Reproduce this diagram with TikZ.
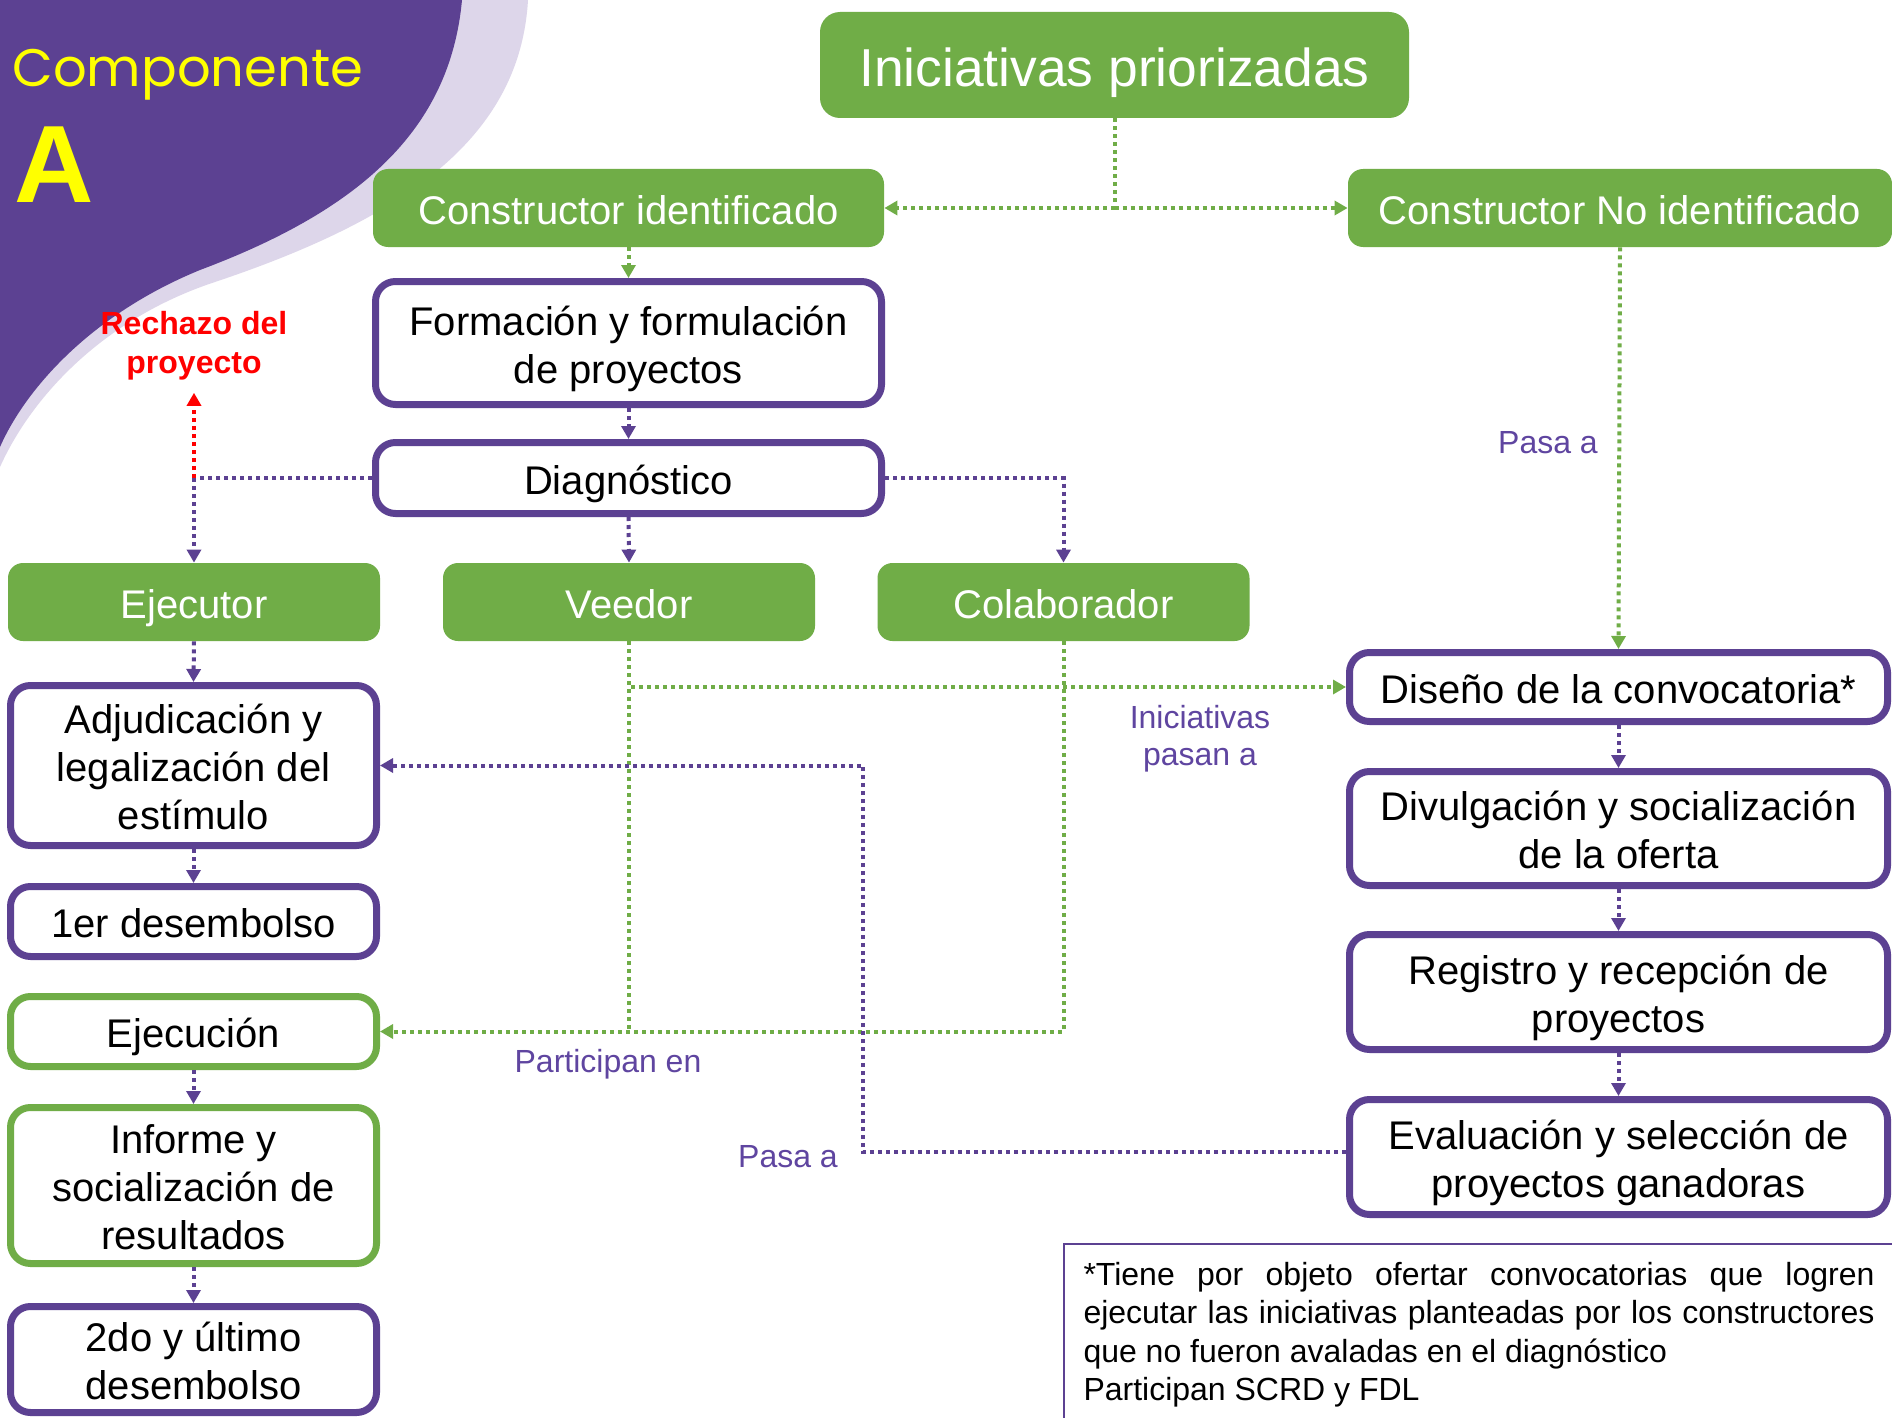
\documentclass[tikz,border=0pt]{standalone}
\usepackage{fontspec}
\setmainfont{Liberation Sans}
\newfontfamily\gothic{Poppins}
\usetikzlibrary{arrows.meta}
\definecolor{pur}{HTML}{5C4192}
\definecolor{lav}{HTML}{DDD6EA}
\definecolor{grn}{HTML}{70AD47}
\definecolor{ylw}{HTML}{FFFF00}
\definecolor{lblp}{HTML}{5F45A0}
\newcommand\sst{\rule[-0.2em]{0pt}{1.22em}}
\newcommand\est{\rule[-0.2em]{0pt}{0.5em}}
\begin{document}
\begin{tikzpicture}[x=0.5pt,y=-0.5pt,
  boxfont/.style={font=\fontsize{20}{24}\selectfont},
  gbox/.style={fill=grn, draw=none, rounded corners=7.5pt, text=white, boxfont, align=center, inner sep=0pt},
  pbox/.style={draw=pur, line width=3.5pt, fill=white, rounded corners=10pt, boxfont, align=center, inner sep=0pt},
  gobox/.style={pbox, draw=grn},
  arr/.style={-{Triangle[length=6.5pt,width=7pt]}},
  pline/.style={draw=pur, line width=2pt, dash pattern=on 2pt off 2pt},
  gline/.style={draw=grn, line width=2pt, dash pattern=on 2pt off 2pt},
  rline/.style={draw=red, line width=2pt, dash pattern=on 2pt off 2pt},
  lbl/.style={text=lblp, font=\fontsize{16}{18.5}\selectfont, align=center, inner sep=0pt}
]
\path[use as bounding box] (0,0) rectangle (1892,1418);
\clip (0,0) rectangle (1892,1418);
\fill[white] (0,0) rectangle (1892,1418);
% background waves
\fill[lav] (0,0) -- (528,0) .. controls (520,140) and (400,220) .. (215,282) .. controls (100,320) and (30,400) .. (0,467) -- cycle;
\fill[pur] (0,0) -- (462,0) .. controls (450,130) and (360,210) .. (200,270) .. controls (90,315) and (25,390) .. (0,447) -- cycle;
\node[anchor=base west, inner sep=0pt, text=ylw, font=\gothic\fontsize{26.4}{30}\selectfont] (comp) at (12,87) {Componente};
\node[anchor=base west, inner sep=0pt, text=ylw, font=\bfseries\fontsize{55}{60}\selectfont] (lettera) at (14,203) {A};

% nodes
\node[gbox, minimum width=294.5pt, minimum height=53pt, rounded corners=10pt, font=\fontsize{26.7}{32}\selectfont] (ini) at (1114.5,65) {\sst Iniciativas priorizadas\est};
\node[gbox, minimum width=255.5pt, minimum height=39pt] (ci) at (628.5,208) {\sst Constructor identificado\est};
\node[gbox, minimum width=272pt, minimum height=39pt] (cni) at (1620,208) {\sst Constructor No identificado\est};
\node[pbox, minimum width=253pt, minimum height=61.5pt] (form) at (628.5,343) {\sst Formación y formulación\\de proyectos\est};
\node[pbox, minimum width=253pt, minimum height=35.5pt] (diag) at (628.5,478) {\sst Diagnóstico\est};
\node[gbox, minimum width=186pt, minimum height=39pt] (ejr) at (194,602) {\sst Ejecutor\est};
\node[gbox, minimum width=186pt, minimum height=39pt] (vee) at (629,602) {\sst Veedor\est};
\node[gbox, minimum width=186pt, minimum height=39pt] (col) at (1063.5,602) {\sst Colaborador\est};
\node[pbox, minimum width=183pt, minimum height=80pt] (adj) at (193.5,765.5) {\sst Adjudicación y\\legalización del\\estímulo\est};
\node[pbox, minimum width=183pt, minimum height=35pt] (d1) at (193.5,921.5) {\sst 1er desembolso\est};
\node[gobox, minimum width=183pt, minimum height=35pt] (eje) at (193.5,1031.5) {\sst Ejecución\est};
\node[gobox, minimum width=183pt, minimum height=78pt] (inf) at (193.5,1185.5) {\sst Informe y\\socialización de\\resultados\est};
\node[pbox, minimum width=183pt, minimum height=53pt] (d2) at (193.5,1359.5) {\sst 2do y último\\desembolso\est};
\node[pbox, minimum width=269pt, minimum height=34.5pt] (dis) at (1618.5,687) {\sst Diseño de la convocatoria*\est};
\node[pbox, minimum width=269pt, minimum height=57pt] (div) at (1618.5,828.5) {\sst Divulgación y socialización\\de la oferta\est};
\node[pbox, minimum width=269pt, minimum height=57.5pt] (reg) at (1618.5,992) {\sst Registro y recepción de\\proyectos\est};
\node[pbox, minimum width=269pt, minimum height=57.5pt] (eva) at (1618.5,1157) {\sst Evaluación y selección de\\proyectos ganadoras\est};

\node[text=red, font=\bfseries\fontsize{16}{19.5}\selectfont, align=center, inner sep=0pt] (rech) at (194,346) {Rechazo del\\proyecto};
\node[lbl] (l1) at (1548,443) {Pasa a};
\node[lbl] (l2) at (1200,739) {Iniciativas\\pasan a};
\node[lbl] (l3) at (608,1064) {Participan en};
\node[lbl] (l4) at (788,1157) {Pasa a};

\node[draw=pur, line width=1pt, fill=white, minimum width=415.5pt, minimum height=88.5pt, text width=395.5pt, align=justify, inner sep=0pt, font=\fontsize{16}{19.3}\selectfont] (note) at (1479,1332)
{\tolerance=9999 \hyphenpenalty=10000 \rule{0pt}{0.9em}*Tiene por objeto ofertar convocatorias que logren ejecutar las iniciativas planteadas por los constructores que no fueron avaladas en el diagnóstico\par Participan SCRD y FDL};

% connectors
\coordinate (split) at (ini.south |- ci.east);
\draw[gline] (ini.south) -- (split);
\draw[gline,arr] (split) -- (ci.east);
\draw[gline,arr] (split) -- (cni.west);
\draw[gline,arr] (ci.south) -- (form.north);
\draw[pline,arr] (form.south) -- (diag.north);
\draw[pline,arr] (diag.south) -- (vee.north);
\coordinate (rj) at (ejr.north |- diag.west);
\draw[pline] (diag.west) -- (rj);
\draw[pline,arr] (rj) -- (ejr.north);
\draw[rline,arr,shorten >=6pt] (rj) -- (rech.south);
\draw[pline,arr] (diag.east) -| (col.north);
\draw[pline,arr] (ejr.south) -- (adj.north);
\draw[pline,arr] (adj.south) -- (d1.north);
\draw[pline,arr] (eje.south) -- (inf.north);
\draw[pline,arr] (inf.south) -- (d2.north);
\draw[gline,arr] (cni.south) -- (dis.north);
\draw[pline,arr] (dis.south) -- (div.north);
\draw[pline,arr] (div.south) -- (reg.north);
\draw[pline,arr] (reg.south) -- (eva.north);
\draw[gline,arr] (vee.south) |- (dis.west);
\draw[gline] (vee.south) -- (vee.south |- eje.east);
\draw[gline,arr] (col.south) |- (eje.east);
\coordinate (bend) at (863,1152);
\draw[pline,arr] (bend -| eva.west) -- (bend) -- (bend |- adj.east) -- (adj.east);
\end{tikzpicture}
\end{document}
